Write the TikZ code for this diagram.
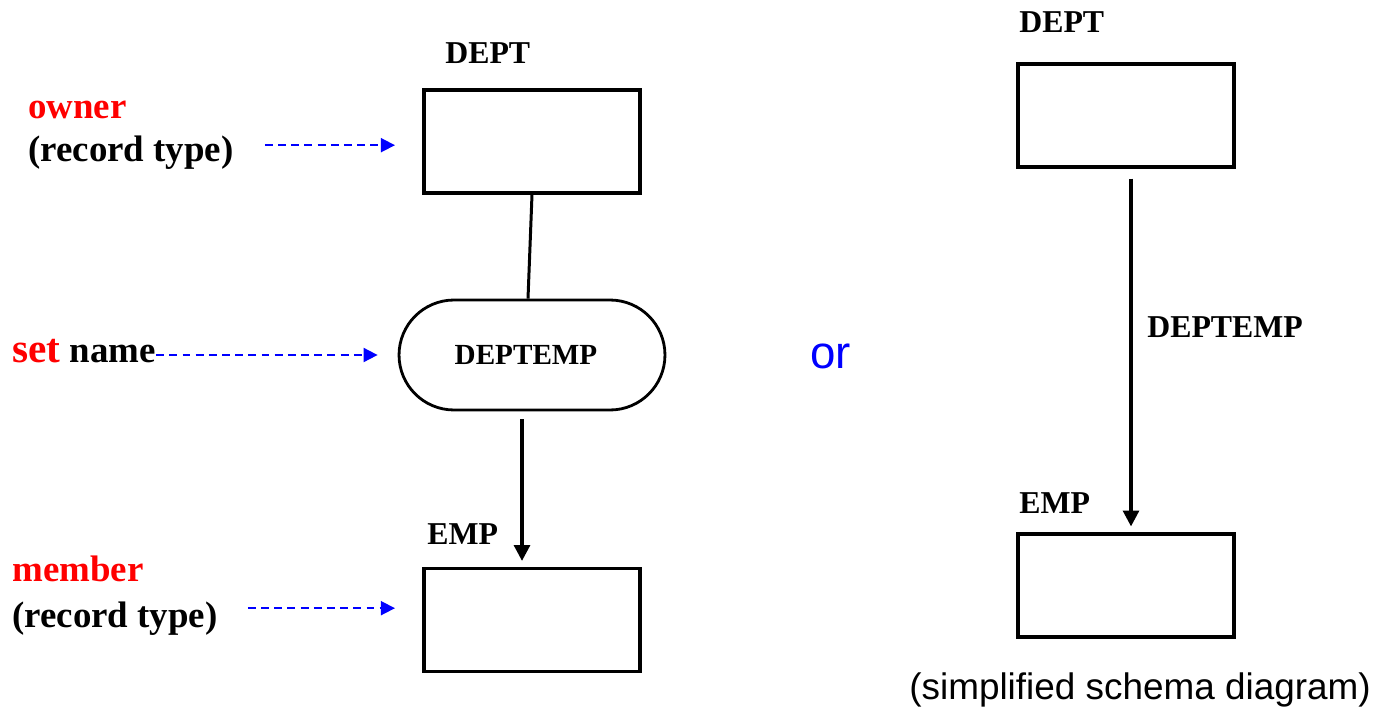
\documentclass[tikz,border=0pt]{standalone}
\usepackage{xcolor}
\usepackage{fontspec}
\setmainfont{Liberation Serif}
\newfontfamily\arialfont{Liberation Sans}
\usepackage{tikz}
\usetikzlibrary{arrows.meta,shapes}
\tikzstyle{recbox}=[rectangle,draw,line width=1.8pt,minimum width=4.32cm,minimum height=2.06cm,inner sep=0pt]
\tikzstyle{setnode}=[rectangle,draw,line width=1.6pt,rounded corners=1.1cm,minimum width=5.32cm,minimum height=2.2cm,inner sep=0pt,font=\bfseries\fontsize{16.6}{18}\selectfont]
\tikzstyle{link} = [draw,line width=1.7pt]
\tikzstyle{setarrow} = [draw,line width=1.9pt,-{Triangle[length=9pt,width=9pt]}]
\tikzstyle{pointer} = [draw,blue,line width=1pt,dash pattern=on 4.5pt off 3pt,-{Triangle[length=8pt,width=8pt]}]
\tikzstyle{lbl} = [inner sep=0pt,anchor=base west,font=\bfseries\fontsize{18.1}{20}\selectfont]
\tikzstyle{side} = [inner sep=0pt,anchor=base west,font=\bfseries\fontsize{21}{24}\selectfont]

\begin{document}
\begin{tikzpicture}[x=0.02cm,y=-0.02cm]

  \useasboundingbox (0,0) rectangle (1379,710);

  % record boxes, owner and member, full and simplified
  \foreach \x/\y/\name in {532/141.5/deptL, 532/620/empL, 1126/115.5/deptR, 1126/585.5/empR}
    \node[recbox] (\name) at (\x,\y) {};

  \node[setnode] (setL) at (532,355) {\hspace*{-0.24cm}DEPTEMP};

  % record type names
  \foreach \x/\y/\name/\label in {445/63/lDeptL/DEPT, 427/544/lEmpL/EMP, 1019/32/lDeptR/DEPT, 1019/513/lEmpR/EMP, 1147/337/lSetR/DEPTEMP}
    \node[lbl] (\name) at (\x,\y) {\label};

  % explanations on the left
  \node[side,red] (owner) at (28,118) {owner};
  \node[side] (rec1) at (28,161) {(record type)};
  \node[side] (setname) at (12,362) {\textcolor{red}{\fontsize{23.5}{26}\selectfont set} name};
  \node[side,red] (member) at (12,581) {member};
  \node[side] (rec2) at (12,627) {(record type)};

  \node[inner sep=0pt,anchor=base west,blue,font=\arialfont\fontsize{26}{30}\selectfont] (orword) at (810,368) {or};
  \node[inner sep=0pt,anchor=base west,font=\arialfont\fontsize{21}{24}\selectfont] (caption) at (909,699) {(simplified schema diagram)};

  % set type
  \path[link] (deptL.south) -- ([xshift=-0.08cm]setL.north);
  \path[setarrow,shorten <=0.16cm,shorten >=0.12cm] ([xshift=-0.2cm]setL.south) -- ([xshift=-0.2cm]empL.north);
  \path[setarrow,shorten <=0.2cm,shorten >=0.12cm] ([xshift=0.1cm]deptR.south) -- ([xshift=0.1cm]empR.north);

  % dashed pointers
  \path[pointer,shorten <=0.62cm,shorten >=0.55cm] ([yshift=0.14cm]rec1.east) -- ([yshift=0.14cm]rec1.east -| deptL.west);
  \path[pointer,shorten >=0.4cm] (setname.east |- setL.west) -- (setL.west);
  \path[pointer,shorten <=0.6cm,shorten >=0.55cm] ([yshift=0.2cm]rec2.east) -- ([yshift=0.2cm]rec2.east -| empL.west);

\end{tikzpicture}
\end{document}
